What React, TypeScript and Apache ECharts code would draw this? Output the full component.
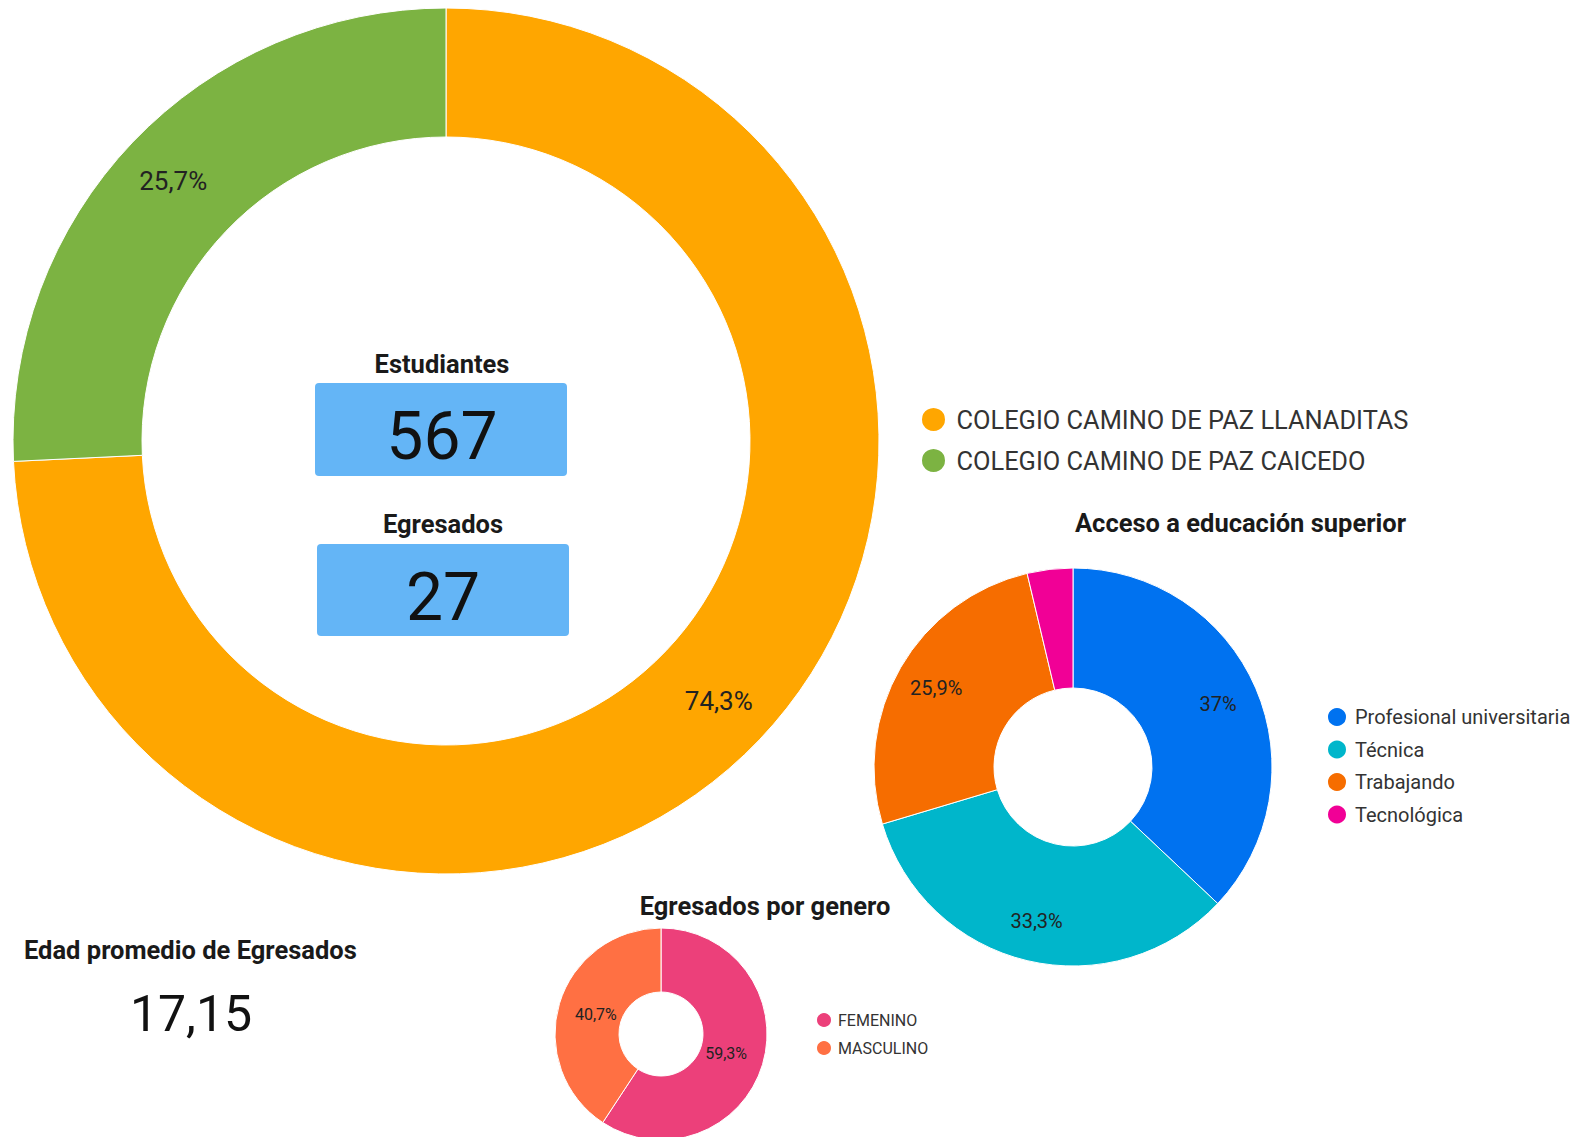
import React, { useEffect, useRef } from "react";
import * as echarts from "echarts";

// ---- data ----
const schoolNames = ["COLEGIO CAMINO DE PAZ LLANADITAS", "COLEGIO CAMINO DE PAZ CAICEDO"];
const schoolStudents = [421, 146];
const schoolColors = ["#FFA600", "#7CB342"];

const accessNames = ["Profesional universitaria", "Técnica", "Trabajando", "Tecnológica"];
const accessValues = [10, 9, 7, 1];
const accessColors = ["#0072F0", "#00B6CB", "#F66D00", "#F10096"];

const genderNames = ["FEMENINO", "MASCULINO"];
const genderValues = [16, 11];
const genderColors = ["#EC407A", "#FF7043"];

const kpiLabels = ["Estudiantes", "Egresados"];
const averageAgeLabel = "Edad promedio de Egresados";
const averageAge = [17.15];

const FONT = "Roboto, 'Noto Sans', sans-serif";

const sum = (a: number[]) => a.reduce((s, v) => s + v, 0);

function fmtPct(v: number, total: number): string {
  const p = Math.round((v / total) * 1000) / 10;
  const s = Number.isInteger(p) ? String(p) : p.toFixed(1);
  return s.replace(".", ",") + "%";
}

function donut(
  id: string,
  names: string[],
  values: number[],
  colors: string[],
  center: number[],
  radius: number[],
  labelRadius: number[],
  fontSize: number,
  minPct: number
) {
  const total = sum(values);
  const main = {
    type: "pie",
    id: id,
    name: id,
    center,
    radius,
    startAngle: 90,
    clockwise: true,
    silent: true,
    label: { show: false },
    labelLine: { show: false },
    emphasis: { disabled: true },
    itemStyle: { borderColor: "#ffffff", borderWidth: 1 },
    data: names.map((n, i) => ({ name: n, value: values[i], itemStyle: { color: colors[i] } })),
  };
  const labels = {
    type: "pie",
    id: id + "-labels",
    name: id + "-labels",
    center,
    radius: labelRadius,
    startAngle: 90,
    clockwise: true,
    silent: true,
    z: 3,
    emphasis: { disabled: true },
    itemStyle: { color: "rgba(0,0,0,0)", borderWidth: 0 },
    labelLine: { show: false },
    label: {
      show: true,
      position: "inside",
      fontSize,
      fontFamily: FONT,
      color: "#222222",
      formatter: (p: any) =>
        (values[p.dataIndex] / total) * 100 >= minPct ? fmtPct(values[p.dataIndex], total) : "",
    },
    data: names.map((n, i) => ({ name: n, value: values[i], itemStyle: { color: "rgba(0,0,0,0)" } })),
  };
  return [main, labels];
}

export default function App() {
  const ref = useRef<HTMLDivElement>(null);

  useEffect(() => {
    if (!ref.current) return;
    const chart = echarts.init(ref.current, undefined, { renderer: "svg" });
    const students = sum(schoolStudents);
    const graduates = sum(genderValues);

    const titleStyle = (text: string) => ({
      text,
      fontFamily: FONT,
      fontSize: 25.5,
      fontWeight: "bold",
      fill: "#1a1a1a",
      textAlign: "center",
      align: "center",
      textVerticalAlign: "middle",
      verticalAlign: "middle",
    });

    const option: any = {
      animation: false,
      backgroundColor: "#ffffff",
      series: [
        ...donut("schools", schoolNames, schoolStudents, schoolColors, [446, 441], [304, 433], [354, 394], 26, 0),
        ...donut("access", accessNames, accessValues, accessColors, [1073, 767], [79, 199], [133, 177], 20, 5),
        ...donut("gender", genderNames, genderValues, genderColors, [661, 1034], [42, 106], [45, 85], 16, 0),
      ],
      legend: [
        {
          orient: "vertical",
          left: 920,
          top: 406,
          padding: 0,
          itemWidth: 36,
          itemHeight: 25,
          itemGap: 14,
          icon: "circle",
          selectedMode: false,
          data: schoolNames,
          textStyle: { fontSize: 25.4, lineHeight: 25, color: "#333333", fontFamily: FONT },
        },
        {
          orient: "vertical",
          left: 1326,
          top: 706,
          padding: 0,
          itemWidth: 26,
          itemHeight: 20,
          itemGap: 10.5,
          icon: "circle",
          selectedMode: false,
          data: accessNames,
          textStyle: { fontSize: 20, lineHeight: 20, color: "#333333", fontFamily: FONT },
        },
        {
          orient: "vertical",
          left: 815,
          top: 1011,
          padding: 0,
          itemWidth: 18,
          itemHeight: 16,
          itemGap: 10,
          icon: "circle",
          selectedMode: false,
          data: genderNames,
          textStyle: { fontSize: 16, lineHeight: 16, color: "#333333", fontFamily: FONT },
        },
      ],
      graphic: [
        { type: "rect", shape: { x: 315, y: 383, width: 252, height: 93, r: 4 }, style: { fill: "#64B5F6" } },
        { type: "rect", shape: { x: 317, y: 544, width: 252, height: 92, r: 4 }, style: { fill: "#64B5F6" } },
        { type: "text", x: 442, y: 364, style: titleStyle(kpiLabels[0]) },
        {
          type: "text",
          x: 442,
          y: 436,
          style: { ...titleStyle(String(students)), fontSize: 66, fontWeight: "normal", fill: "#111111" },
        },
        { type: "text", x: 443, y: 524, style: titleStyle(kpiLabels[1]) },
        {
          type: "text",
          x: 443,
          y: 597,
          style: { ...titleStyle(String(graduates)), fontSize: 66, fontWeight: "normal", fill: "#111111" },
        },
        {
          type: "text",
          x: 1406,
          y: 523,
          style: { ...titleStyle("Acceso a educación superior"), textAlign: "right", align: "right" },
        },
        { type: "text", x: 765, y: 906, style: titleStyle("Egresados por genero") },
        {
          type: "text",
          x: 24,
          y: 950,
          style: { ...titleStyle(averageAgeLabel), textAlign: "left", align: "left" },
        },
        {
          type: "text",
          x: 191,
          y: 1014,
          style: {
            ...titleStyle(averageAge[0].toFixed(2).replace(".", ",")),
            fontSize: 50,
            fontWeight: "normal",
            fill: "#111111",
          },
        },
      ],
    };
    chart.setOption(option);
    return () => chart.dispose();
  }, []);

  return (
    <div
      ref={ref}
      style={{ position: "absolute", left: 0, top: 0, width: 1575, height: 1137, background: "#fff" }}
    />
  );
}
